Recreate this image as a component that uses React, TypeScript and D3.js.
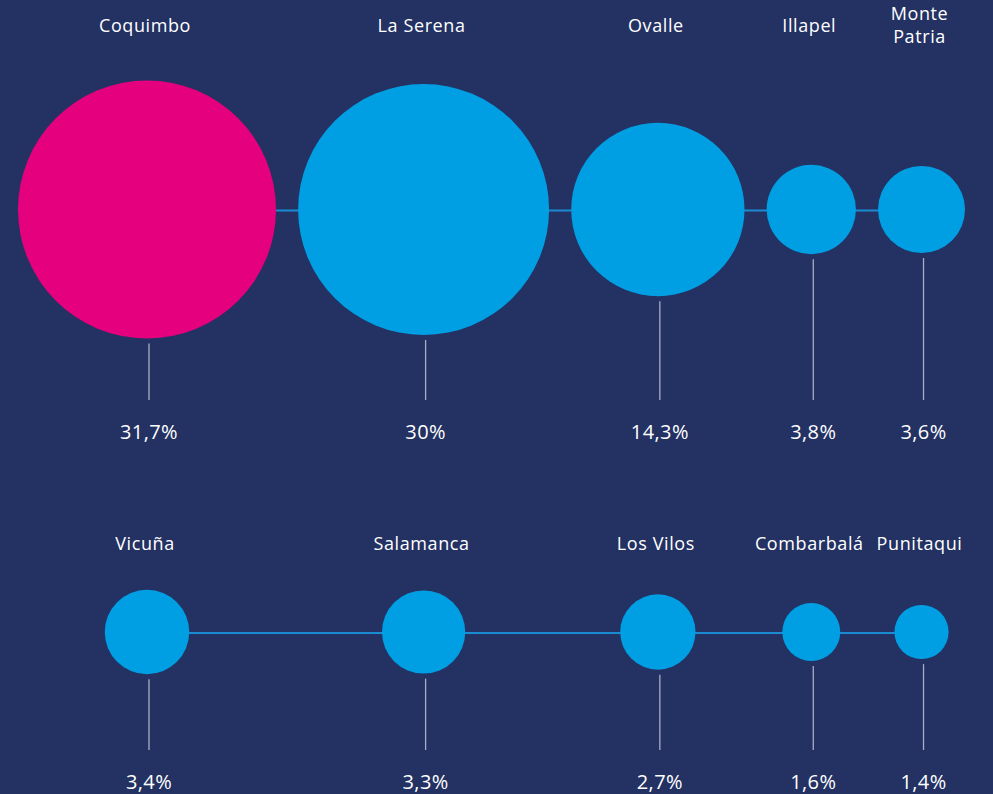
import React, { useEffect, useRef } from "react";
import * as d3 from "d3";

const topCategories = ["Coquimbo", "La Serena", "Ovalle", "Illapel", "Monte\nPatria"];
const topValues = [31.7, 30, 14.3, 3.8, 3.6];
const bottomCategories = ["Vicuña", "Salamanca", "Los Vilos", "Combarbalá", "Punitaqui"];
const bottomValues = [3.4, 3.3, 2.7, 1.6, 1.4];
const highlighted = ["Coquimbo"];

const W = 993;
const H = 794;
const BG = "#233163";
const BLUE = "#009fe3";
const PINK = "#e5007e";
const CONNECT = "#1b8bd2";
const LEADER = "#a9aec4";
const FONT = "'Open Sans', 'Noto Sans', sans-serif";

export default function App() {
  const ref = useRef<SVGSVGElement | null>(null);

  useEffect(() => {
    const svg = d3.select(ref.current);
    svg.selectAll("*").remove();

    const maxV = d3.max(topValues.concat(bottomValues)) as number;
    const r = d3.scaleSqrt().domain([0, maxV]).range([0, 129]);

    const locale = d3.formatLocale({ decimal: ",", thousands: ".", grouping: [3], currency: ["", "€"] });
    const fmt = locale.format(".3~g");

    // column centers: pack the top row circles between the left and right margins
    const left = 18;
    const right = 965;
    const diam = d3.sum(topValues, (v) => 2 * r(v));
    const gap = (right - left - diam) / (topValues.length - 1);
    const cols: number[] = [];
    let cursor = left;
    topValues.forEach((v) => {
      const rad = r(v);
      cols.push(cursor + rad);
      cursor += 2 * rad + gap;
    });

    svg.append("rect").attr("width", W).attr("height", H).attr("fill", BG);

    const rows = [
      { cats: topCategories, vals: topValues, cy: 209.5, labelY: 32, leaderEnd: 400, valueY: 439 },
      { cats: bottomCategories, vals: bottomValues, cy: 632, labelY: 550, leaderEnd: 750, valueY: 789 },
    ];

    rows.forEach((row) => {
      const g = svg.append("g");
      g.append("line")
        .attr("x1", cols[0])
        .attr("x2", cols[cols.length - 1])
        .attr("y1", row.cy + 1)
        .attr("y2", row.cy + 1)
        .attr("stroke", CONNECT)
        .attr("stroke-width", 2);

      const items = row.cats.map((c, i) => ({ c, v: row.vals[i], x: cols[i] }));

      g.selectAll("circle.bubble")
        .data(items)
        .join("circle")
        .attr("class", "bubble")
        .attr("cx", (d) => d.x)
        .attr("cy", row.cy)
        .attr("r", (d) => r(d.v))
        .attr("fill", (d) => (highlighted.includes(d.c) ? PINK : BLUE));

      g.selectAll("line.leader")
        .data(items)
        .join("line")
        .attr("class", "leader")
        .attr("x1", (d) => d.x + 2)
        .attr("x2", (d) => d.x + 2)
        .attr("y1", (d) => row.cy + r(d.v) + 5)
        .attr("y2", row.leaderEnd)
        .attr("stroke", LEADER)
        .attr("stroke-width", 1.3);

      g.selectAll("text.value")
        .data(items)
        .join("text")
        .attr("class", "value")
        .attr("x", (d) => d.x + 2)
        .attr("y", row.valueY)
        .attr("text-anchor", "middle")
        .attr("fill", "#ffffff")
        .attr("font-family", FONT)
        .attr("font-size", 20)
        .attr("font-weight", 500)
        .attr("letter-spacing", 0.4)
        .text((d) => fmt(d.v) + "%");

      const labels = g
        .selectAll("text.label")
        .data(items)
        .join("text")
        .attr("class", "label")
        .attr("x", (d) => d.x - 2)
        .attr("y", row.labelY)
        .attr("text-anchor", "middle")
        .attr("fill", "#ffffff")
        .attr("font-family", FONT)
        .attr("font-size", 18)
        .attr("font-weight", 500)
        .attr("letter-spacing", 0.6);

      labels.each(function (d) {
        const parts = d.c.split("\n");
        const t = d3.select(this);
        if (parts.length === 1) {
          t.text(parts[0]);
        } else {
          parts.forEach((p, i) => {
            t.append("tspan")
              .attr("x", d.x - 2)
              .attr("y", row.labelY - 12 + i * 23)
              .text(p);
          });
        }
      });
    });
  }, []);

  return (
    <svg
      ref={ref}
      width={W}
      height={H}
      style={{ position: "absolute", left: 0, top: 0, display: "block" }}
    />
  );
}
